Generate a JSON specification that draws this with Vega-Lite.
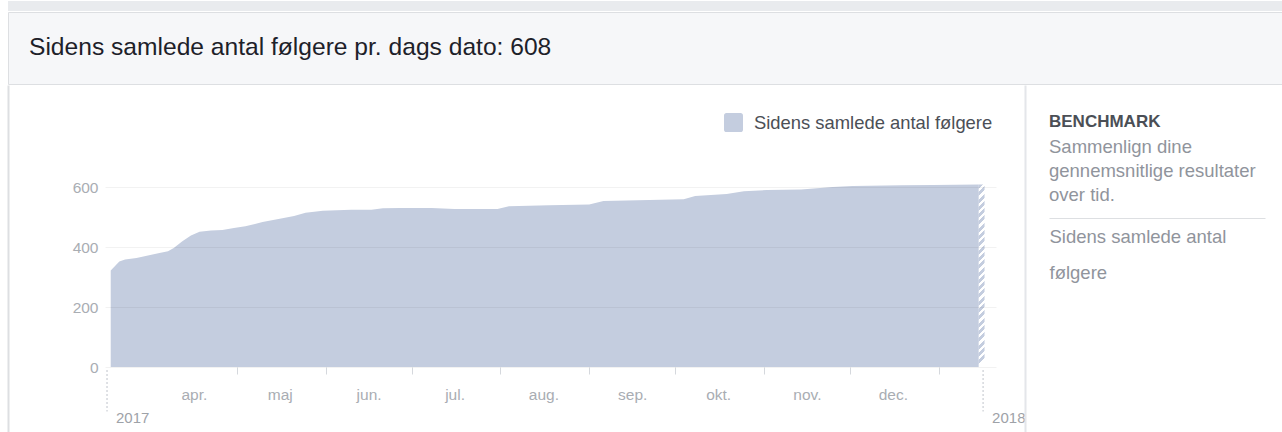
{
  "$schema": "https://vega.github.io/schema/vega-lite/v6.json",
  "background": "white",
  "padding": {"left": 7, "top": 0, "right": 0, "bottom": 0},
  "config": {"font": "Liberation Sans", "view": {"stroke": null}},
  "bounds": "full",
  "spacing": 0,
  "vconcat": [
    {
      "width": 1275,
      "height": 10,
      "view": {"fill": "#e9ebee", "stroke": null},
      "data": {"values": [{}]},
      "mark": {"type": "text", "text": ""},
      "encoding": {}
    },
    {
      "width": 1275,
      "height": 72,
      "view": {"fill": "#f6f7f9", "stroke": "#dddfe2"},
      "data": {"values": [{"heading": "Sidens samlede antal følgere pr. dags dato: 608"}]},
      "mark": {"type": "text", "align": "left", "baseline": "middle", "dx": 21, "fontSize": 24.6, "color": "#1d2129"},
      "encoding": {
        "text": {"field": "heading"},
        "x": {"datum": 0, "type": "quantitative", "scale": {"domain": [0, 1]}, "axis": null},
        "y": {"datum": 0.5, "type": "quantitative", "scale": {"domain": [0, 1]}, "axis": null}
      }
    },
    {
      "bounds": "flush",
      "spacing": 0,
      "hconcat": [
        {
          "width": 97,
          "height": 349,
          "data": {"values": [{}]},
          "mark": {"type": "text", "text": ""},
          "encoding": {
            "y": {"datum": 0, "type": "quantitative", "scale": {"domain": [0, 1]},
              "axis": {"orient": "left", "labels": false, "ticks": false, "grid": false, "title": null, "domainColor": "#dddfe2", "domainWidth": 2}}
          }
        },
        {
          "width": 891,
          "height": 282,
          "layer": [
            {
              "data": {"values": [
                {"date": "2017-03-18", "followers": 322},
                {"date": "2017-03-21", "followers": 352},
                {"date": "2017-03-23", "followers": 358},
                {"date": "2017-03-27", "followers": 363},
                {"date": "2017-03-31", "followers": 372},
                {"date": "2017-04-04", "followers": 380},
                {"date": "2017-04-07", "followers": 386},
                {"date": "2017-04-09", "followers": 397},
                {"date": "2017-04-12", "followers": 419},
                {"date": "2017-04-15", "followers": 438},
                {"date": "2017-04-18", "followers": 451},
                {"date": "2017-04-22", "followers": 455},
                {"date": "2017-04-26", "followers": 457},
                {"date": "2017-04-30", "followers": 463},
                {"date": "2017-05-04", "followers": 469},
                {"date": "2017-05-10", "followers": 483},
                {"date": "2017-05-16", "followers": 494},
                {"date": "2017-05-21", "followers": 503},
                {"date": "2017-05-25", "followers": 514},
                {"date": "2017-05-31", "followers": 521},
                {"date": "2017-06-10", "followers": 524},
                {"date": "2017-06-17", "followers": 524},
                {"date": "2017-06-21", "followers": 529},
                {"date": "2017-06-27", "followers": 530},
                {"date": "2017-07-08", "followers": 530},
                {"date": "2017-07-16", "followers": 527},
                {"date": "2017-07-31", "followers": 527},
                {"date": "2017-08-04", "followers": 536},
                {"date": "2017-08-18", "followers": 539},
                {"date": "2017-09-01", "followers": 542},
                {"date": "2017-09-06", "followers": 553},
                {"date": "2017-09-18", "followers": 556},
                {"date": "2017-10-04", "followers": 559},
                {"date": "2017-10-08", "followers": 570},
                {"date": "2017-10-19", "followers": 577},
                {"date": "2017-10-25", "followers": 586},
                {"date": "2017-11-02", "followers": 590},
                {"date": "2017-11-14", "followers": 592},
                {"date": "2017-11-25", "followers": 600},
                {"date": "2017-12-02", "followers": 603},
                {"date": "2017-12-19", "followers": 606},
                {"date": "2017-12-30", "followers": 607},
                {"date": "2018-01-15", "followers": 608}
              ]},
              "mark": {"type": "area", "opacity": 1, "interpolate": "linear"},
              "encoding": {
                "x": {
                  "field": "date", "type": "temporal",
                  "scale": {"domain": [{"year": 2017, "month": 3, "date": 16, "utc": true}, {"year": 2018, "month": 1, "date": 21, "utc": true}]},
                  "axis": {
                    "title": null,
                    "domain": false,
                    "grid": false,
                    "values": [
                      {"year": 2017, "month": 4, "date": 1, "utc": true},
                      {"year": 2017, "month": 5, "date": 1, "utc": true},
                      {"year": 2017, "month": 6, "date": 1, "utc": true},
                      {"year": 2017, "month": 7, "date": 1, "utc": true},
                      {"year": 2017, "month": 8, "date": 1, "utc": true},
                      {"year": 2017, "month": 9, "date": 1, "utc": true},
                      {"year": 2017, "month": 10, "date": 1, "utc": true},
                      {"year": 2017, "month": 11, "date": 1, "utc": true},
                      {"year": 2017, "month": 12, "date": 1, "utc": true},
                      {"year": 2018, "month": 1, "date": 1, "utc": true}
                    ],
                    "labelExpr": "utcmonth(datum.value) == 0 ? '' : ['jan.','feb.','mar.','apr.','maj','jun.','jul.','aug.','sep.','okt.','nov.','dec.'][utcmonth(datum.value)]",
                    "labelOffset": 43,
                    "labelPadding": 20,
                    "labelBaseline": "middle",
                    "labelFontSize": 15.5,
                    "labelColor": "#a9adb3",
                    "labelOverlap": false,
                    "labelBound": false,
                    "labelFlush": false,
                    "tickSize": 7,
                    "tickWidth": 1,
                    "tickColor": "#d5d8dd",
                    "tickOpacity": {"condition": {"test": "utcmonth(datum.value) == 3", "value": 0}, "value": 1}
                  }
                },
                "y": {
                  "field": "followers", "type": "quantitative",
                  "scale": {"domain": [0, 940], "nice": false},
                  "axis": {
                    "title": null,
                    "values": [0, 200, 400, 600],
                    "ticks": false,
                    "domain": false,
                    "grid": true,
                    "gridColor": "#000000",
                    "gridOpacity": 0.05,
                    "zindex": 1,
                    "labelPadding": 7,
                    "labelFontSize": 15.5,
                    "labelColor": "#a9adb3"
                  }
                },
                "color": {
                  "datum": "Sidens samlede antal følgere", "type": "nominal",
                  "scale": {"range": ["#c4cddf"]},
                  "legend": {
                    "orient": "none", "legendX": 716, "legendY": 112, "title": null,
                    "symbolType": "M-0.75,-1H0.75A0.25,0.25 0 0 1 1,-0.75V0.75A0.25,0.25 0 0 1 0.75,1H-0.75A0.25,0.25 0 0 1 -1,0.75V-0.75A0.25,0.25 0 0 1 -0.75,-1Z",
                    "symbolSize": 361, "symbolStrokeWidth": 0, "symbolOpacity": 1,
                    "labelFontSize": 18.4, "labelColor": "#4b4f56", "labelOffset": 11, "labelLimit": 400
                  }
                }
              }
            },
            {
              "data": {"values": [{"start": "2018-01-15", "end": "2018-01-17", "followers": 608}]},
              "mark": {
                "type": "rect",
                "fill": {
                  "gradient": "linear", "x1": 0, "y1": 0, "x2": 0.0314, "y2": 1,
                  "stops": [
                    {"offset": 0, "color": "#c4cddf"}, {"offset": 0.022, "color": "#c4cddf"}, {"offset": 0.022, "color": "#fff"}, {"offset": 0.04, "color": "#fff"},
                    {"offset": 0.04, "color": "#c4cddf"}, {"offset": 0.062, "color": "#c4cddf"}, {"offset": 0.062, "color": "#fff"}, {"offset": 0.08, "color": "#fff"},
                    {"offset": 0.08, "color": "#c4cddf"}, {"offset": 0.102, "color": "#c4cddf"}, {"offset": 0.102, "color": "#fff"}, {"offset": 0.12, "color": "#fff"},
                    {"offset": 0.12, "color": "#c4cddf"}, {"offset": 0.142, "color": "#c4cddf"}, {"offset": 0.142, "color": "#fff"}, {"offset": 0.16, "color": "#fff"},
                    {"offset": 0.16, "color": "#c4cddf"}, {"offset": 0.182, "color": "#c4cddf"}, {"offset": 0.182, "color": "#fff"}, {"offset": 0.2, "color": "#fff"},
                    {"offset": 0.2, "color": "#c4cddf"}, {"offset": 0.222, "color": "#c4cddf"}, {"offset": 0.222, "color": "#fff"}, {"offset": 0.24, "color": "#fff"},
                    {"offset": 0.24, "color": "#c4cddf"}, {"offset": 0.262, "color": "#c4cddf"}, {"offset": 0.262, "color": "#fff"}, {"offset": 0.28, "color": "#fff"},
                    {"offset": 0.28, "color": "#c4cddf"}, {"offset": 0.302, "color": "#c4cddf"}, {"offset": 0.302, "color": "#fff"}, {"offset": 0.32, "color": "#fff"},
                    {"offset": 0.32, "color": "#c4cddf"}, {"offset": 0.342, "color": "#c4cddf"}, {"offset": 0.342, "color": "#fff"}, {"offset": 0.36, "color": "#fff"},
                    {"offset": 0.36, "color": "#c4cddf"}, {"offset": 0.382, "color": "#c4cddf"}, {"offset": 0.382, "color": "#fff"}, {"offset": 0.4, "color": "#fff"},
                    {"offset": 0.4, "color": "#c4cddf"}, {"offset": 0.422, "color": "#c4cddf"}, {"offset": 0.422, "color": "#fff"}, {"offset": 0.44, "color": "#fff"},
                    {"offset": 0.44, "color": "#c4cddf"}, {"offset": 0.462, "color": "#c4cddf"}, {"offset": 0.462, "color": "#fff"}, {"offset": 0.48, "color": "#fff"},
                    {"offset": 0.48, "color": "#c4cddf"}, {"offset": 0.502, "color": "#c4cddf"}, {"offset": 0.502, "color": "#fff"}, {"offset": 0.52, "color": "#fff"},
                    {"offset": 0.52, "color": "#c4cddf"}, {"offset": 0.542, "color": "#c4cddf"}, {"offset": 0.542, "color": "#fff"}, {"offset": 0.56, "color": "#fff"},
                    {"offset": 0.56, "color": "#c4cddf"}, {"offset": 0.582, "color": "#c4cddf"}, {"offset": 0.582, "color": "#fff"}, {"offset": 0.6, "color": "#fff"},
                    {"offset": 0.6, "color": "#c4cddf"}, {"offset": 0.622, "color": "#c4cddf"}, {"offset": 0.622, "color": "#fff"}, {"offset": 0.64, "color": "#fff"},
                    {"offset": 0.64, "color": "#c4cddf"}, {"offset": 0.662, "color": "#c4cddf"}, {"offset": 0.662, "color": "#fff"}, {"offset": 0.68, "color": "#fff"},
                    {"offset": 0.68, "color": "#c4cddf"}, {"offset": 0.702, "color": "#c4cddf"}, {"offset": 0.702, "color": "#fff"}, {"offset": 0.72, "color": "#fff"},
                    {"offset": 0.72, "color": "#c4cddf"}, {"offset": 0.742, "color": "#c4cddf"}, {"offset": 0.742, "color": "#fff"}, {"offset": 0.76, "color": "#fff"},
                    {"offset": 0.76, "color": "#c4cddf"}, {"offset": 0.782, "color": "#c4cddf"}, {"offset": 0.782, "color": "#fff"}, {"offset": 0.8, "color": "#fff"},
                    {"offset": 0.8, "color": "#c4cddf"}, {"offset": 0.822, "color": "#c4cddf"}, {"offset": 0.822, "color": "#fff"}, {"offset": 0.84, "color": "#fff"},
                    {"offset": 0.84, "color": "#c4cddf"}, {"offset": 0.862, "color": "#c4cddf"}, {"offset": 0.862, "color": "#fff"}, {"offset": 0.88, "color": "#fff"},
                    {"offset": 0.88, "color": "#c4cddf"}, {"offset": 0.902, "color": "#c4cddf"}, {"offset": 0.902, "color": "#fff"}, {"offset": 0.92, "color": "#fff"},
                    {"offset": 0.92, "color": "#c4cddf"}, {"offset": 0.942, "color": "#c4cddf"}, {"offset": 0.942, "color": "#fff"}, {"offset": 0.96, "color": "#fff"},
                    {"offset": 0.96, "color": "#c4cddf"}, {"offset": 0.982, "color": "#c4cddf"}, {"offset": 0.982, "color": "#fff"}, {"offset": 1, "color": "#fff"}
                  ]
                }
              },
              "encoding": {
                "x": {"field": "start", "type": "temporal"},
                "x2": {"field": "end"},
                "y": {"field": "followers", "type": "quantitative"},
                "y2": {"datum": 0}
              }
            },
            {
              "data": {"values": [
                {"d": "2017-03-16T17:00:00Z", "year": "2017"},
                {"d": "2018-01-16T12:00:00Z", "year": "2018"}
              ]},
              "layer": [
                {
                  "mark": {"type": "rule", "strokeDash": [2, 2], "strokeWidth": 1.5, "color": "#d5d8dd"},
                  "encoding": {
                    "x": {"field": "d", "type": "temporal"},
                    "y": {"datum": -10, "type": "quantitative"},
                    "y2": {"datum": -148}
                  }
                },
                {
                  "mark": {"type": "text", "align": "left", "baseline": "middle", "dx": 9, "fontSize": 15, "color": "#9ea2a8"},
                  "encoding": {
                    "x": {"field": "d", "type": "temporal"},
                    "y": {"datum": -170, "type": "quantitative"},
                    "text": {"field": "year"}
                  }
                }
              ]
            }
          ]
        },
        {
          "width": 53,
          "height": 349,
          "data": {"values": [{}]},
          "mark": {"type": "text", "text": ""},
          "encoding": {
            "y": {"datum": 0, "type": "quantitative", "scale": {"domain": [0, 1]},
              "axis": {"orient": "right", "offset": -24, "labels": false, "ticks": false, "grid": false, "title": null, "domainColor": "#e4e6ea", "domainWidth": 2}}
          }
        },
        {
          "width": 216,
          "height": 349,
          "data": {"values": [{}]},
          "title": {
            "text": "BENCHMARK",
            "subtitle": ["Sammenlign dine", "gennemsnitlige resultater", "over tid."],
            "anchor": "start", "frame": "group", "offset": -120,
            "fontSize": 17, "fontWeight": "bold", "color": "#4b4f56",
            "subtitleFontSize": 18.5, "subtitleColor": "#90949c", "subtitleLineHeight": 24, "subtitlePadding": 7
          },
          "mark": {"type": "text", "text": ""},
          "encoding": {
            "x": {"datum": 0, "type": "quantitative", "scale": {"domain": [0, 1]},
              "axis": {
                "orient": "bottom", "offset": -216, "labels": false, "ticks": false, "grid": false,
                "domainColor": "#dddfe2", "domainWidth": 1,
                "title": ["Sidens samlede antal", "følgere"],
                "titleFontSize": 18.5, "titleFontWeight": "normal", "titleColor": "#90949c",
                "titleAnchor": "start", "titleAlign": "left", "titleBaseline": "top",
                "titleLineHeight": 36, "titlePadding": 9
              }}
          }
        }
      ]
    }
  ]
}
